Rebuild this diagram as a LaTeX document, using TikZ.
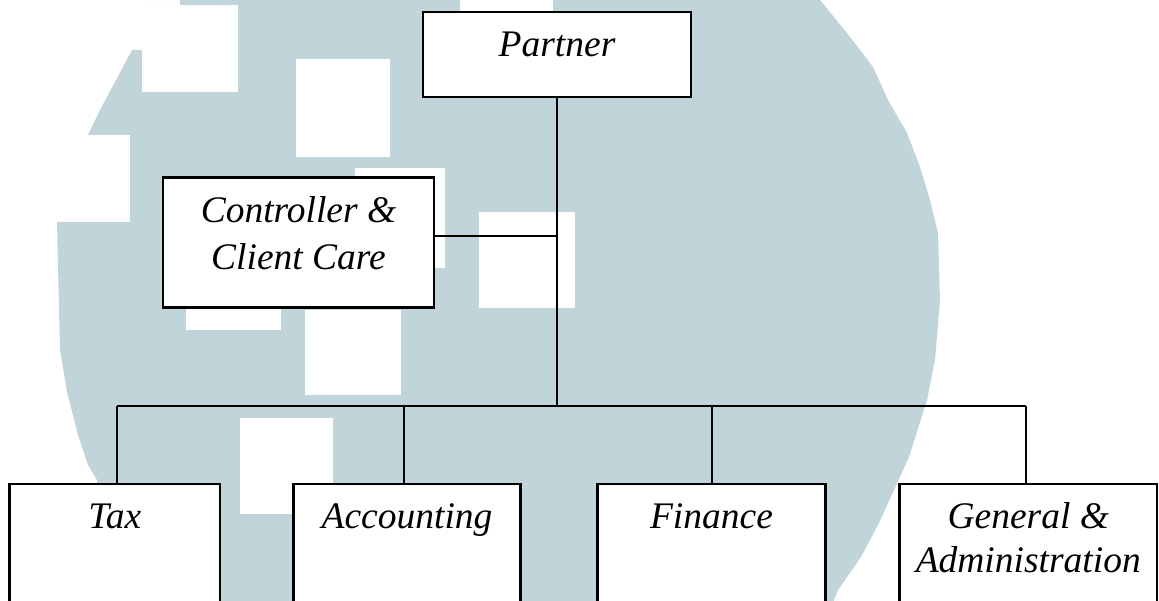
\documentclass[tikz,border=0pt]{standalone}
\usepackage{fontspec}
\setmainfont{Liberation Serif}
\definecolor{wm}{RGB}{192,212,218}
\begin{document}
\begin{tikzpicture}[x=1pt,y=-1pt,
  box/.style={draw=black, line width=2.3pt, fill=white, inner sep=0pt, rectangle},
  lbl/.style={font=\fontsize{37.5}{46}\selectfont\itshape, anchor=base, inner sep=0pt, align=center},
  conn/.style={line width=2pt, draw=black}]
\useasboundingbox (0,0) rectangle (1159,601);
\clip (0,0) rectangle (1159,601);
% watermark
\fill[wm] (180,0) -- (820,0) -- (847,33) -- (873,67) -- (888,100) -- (907,133) -- (920,167) -- (930,200) -- (938,233) -- (940,300) -- (935,360) -- (927,400) -- (909,457) -- (894,490) -- (879,523) -- (861,557) -- (838,590) -- (830,610) -- (100,610) -- (97,480) -- (88,465) -- (78,435) -- (67,392) -- (60,350) -- (57,222) -- (130,222) -- (130,135) -- (88,135) -- (100,110) -- (132,50) -- (142,50) -- (142,5) -- (180,5) -- cycle;
\fill[white] (142,5) rectangle (238,92);
\fill[white] (296,59) rectangle (390,157);
\fill[white] (460,-10) rectangle (553,12);
\fill[white] (479,212) rectangle (575,308);
\fill[white] (355,168) rectangle (445,268);
\fill[white] (186,235) rectangle (281,330);
\fill[white] (305,310) rectangle (401,395);
\fill[white] (240,418) rectangle (333,514);
% boxes
\node[box, minimum width=268pt, minimum height=85pt] (partner) at (557,54.5) {};
\node[box, minimum width=271pt, minimum height=130pt] (ctrl) at (298.5,242.5) {};
\node[box, minimum width=210.5pt, minimum height=156pt] (tax) at (114.75,562) {};
\node[box, minimum width=227pt, minimum height=156pt] (acc) at (407,562) {};
\node[box, minimum width=228pt, minimum height=156pt] (fin) at (711.5,562) {};
\node[box, minimum width=257.5pt, minimum height=156pt] (gen) at (1028.25,562) {};
% labels (multi-line nodes: base = last line)
\node[lbl] (partnerT) at (557,57) {Partner};
\node[lbl, font=\fontsize{37.5}{47}\selectfont\itshape] (ctrlT) at (298.5,270) {Controller \&\\Client Care};
\node[lbl] (taxT) at (114.75,528) {Tax};
\node[lbl] (accT) at (407,528) {Accounting};
\node[lbl] (finT) at (711.5,528) {Finance};
\node[lbl, font=\fontsize{37.5}{44}\selectfont\itshape] (genT) at (1028.25,572) {General \&\\Administration};
% connectors
\coordinate (j) at (556,405.5);
\draw[conn] (partner.south) -- (partner.south |- j);
\draw[conn] ([yshift=6pt]ctrl.east) -- ([yshift=6pt]ctrl.east -| partner.south);
\draw[conn] ([xshift=2pt]tax.north |- j) -- ([xshift=-2pt]gen.north |- j);
\draw[conn] ([xshift=2pt]tax.north) -- ([xshift=2pt]tax.north |- j);
\draw[conn] ([xshift=-3pt]acc.north) -- ([xshift=-3pt]acc.north |- j);
\draw[conn] (fin.north) -- (fin.north |- j);
\draw[conn] ([xshift=-2pt]gen.north) -- ([xshift=-2pt]gen.north |- j);
\end{tikzpicture}
\end{document}
